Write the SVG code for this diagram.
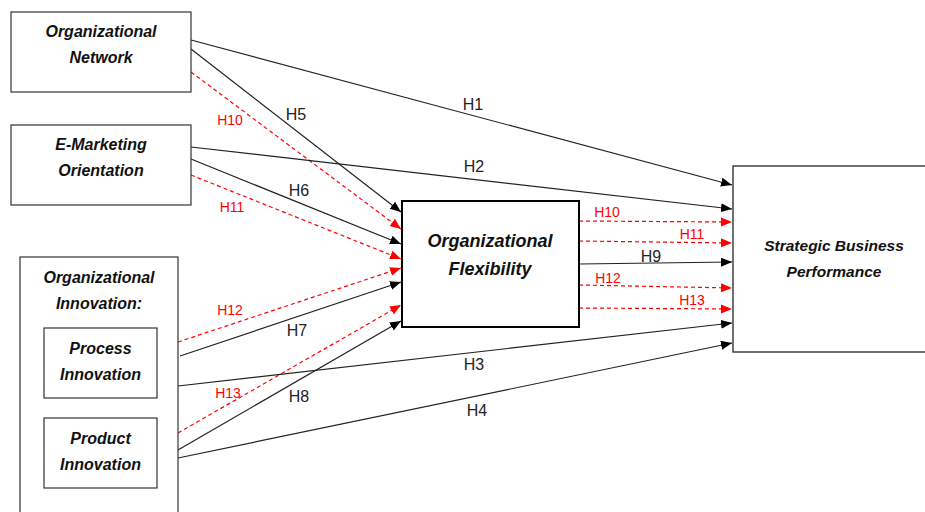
<svg xmlns="http://www.w3.org/2000/svg" width="925" height="512" viewBox="0 0 925 512">
<style>
.box{fill:#fff;stroke:#333;stroke-width:1.2}
.thick{fill:#fff;stroke:#000;stroke-width:2}
.nt{font-family:"Liberation Sans",Arial,sans-serif;font-weight:bold;font-style:italic;font-size:16px;fill:#111;text-anchor:middle}
.s{stroke:#222;stroke-width:1.2;fill:none;marker-end:url(#ab)}
.d{stroke:#f00;stroke-width:1.2;fill:none;stroke-dasharray:4 3;marker-end:url(#ar)}
.lb{font-family:"Liberation Sans",Arial,sans-serif;font-size:16px;fill:#222;text-anchor:middle}
.lr{font-family:"Liberation Sans",Arial,sans-serif;font-size:14px;fill:#f00;text-anchor:middle}
</style>
<defs>
<marker id="ab" markerUnits="userSpaceOnUse" markerWidth="12" markerHeight="10" refX="11" refY="4.5" orient="auto"><path d="M0,0 L11,4.5 L0,9 z" fill="#000"/></marker>
<marker id="ar" markerUnits="userSpaceOnUse" markerWidth="12" markerHeight="10" refX="11" refY="4.5" orient="auto"><path d="M0,0 L11,4.5 L0,9 z" fill="#f00"/></marker>
</defs>
<rect width="925" height="512" fill="#fff"/>
<g id="connectors">
<line class="s" x1="191" y1="40" x2="732" y2="185"/>
<line class="s" x1="191" y1="49" x2="401" y2="212"/>
<line class="d" x1="191" y1="72" x2="401" y2="229"/>
<line class="s" x1="191" y1="147" x2="732" y2="209"/>
<line class="s" x1="191" y1="159" x2="401" y2="244"/>
<line class="d" x1="191" y1="175" x2="401" y2="259"/>
<line class="d" x1="178" y1="342" x2="401" y2="268"/>
<line class="s" x1="180" y1="356" x2="401" y2="282"/>
<line class="s" x1="178" y1="386" x2="732" y2="323"/>
<line class="d" x1="178" y1="433" x2="401" y2="305"/>
<line class="s" x1="178" y1="450" x2="401" y2="321"/>
<line class="s" x1="178" y1="458" x2="732" y2="343"/>
<line class="d" x1="579" y1="221" x2="732" y2="222"/>
<line class="d" x1="579" y1="241" x2="732" y2="243"/>
<line class="s" x1="579" y1="264" x2="732" y2="262"/>
<line class="d" x1="579" y1="285" x2="732" y2="288"/>
<line class="d" x1="579" y1="308" x2="732" y2="309"/>
<text class="lb" x="473" y="110">H1</text>
<text class="lb" x="474" y="172">H2</text>
<text class="lb" x="474" y="370">H3</text>
<text class="lb" x="477" y="416">H4</text>
<text class="lb" x="296" y="120">H5</text>
<text class="lb" x="299" y="196">H6</text>
<text class="lb" x="297" y="336">H7</text>
<text class="lb" x="299" y="402">H8</text>
<text class="lb" x="651" y="262">H9</text>
<text class="lr" x="230" y="125">H10</text>
<text class="lr" x="232" y="212">H11</text>
<text class="lr" x="230" y="315">H12</text>
<text class="lr" x="228" y="398">H13</text>
<text class="lr" x="607" y="217">H10</text>
<text class="lr" x="692" y="239">H11</text>
<text class="lr" x="608" y="283">H12</text>
<text class="lr" x="692" y="305">H13</text>
</g>
<g id="org-network">
<rect class="box" x="11" y="12" width="180" height="80"/>
<text class="nt" x="101" y="37">Organizational</text>
<text class="nt" x="101" y="63">Network</text>
</g>
<g id="e-marketing">
<rect class="box" x="11" y="125" width="180" height="80"/>
<text class="nt" x="101" y="150">E-Marketing</text>
<text class="nt" x="101" y="176">Orientation</text>
</g>
<g id="org-innovation">
<rect class="box" x="20" y="257" width="158" height="270"/>
<text class="nt" x="99" y="283">Organizational</text>
<text class="nt" x="99" y="309">Innovation:</text>
</g>
<g id="process-innovation">
<rect class="box" x="44" y="328" width="113" height="70"/>
<text class="nt" x="100.5" y="354">Process</text>
<text class="nt" x="100.5" y="380">Innovation</text>
</g>
<g id="product-innovation">
<rect class="box" x="44" y="418" width="113" height="70"/>
<text class="nt" x="100.5" y="444">Product</text>
<text class="nt" x="100.5" y="470">Innovation</text>
</g>
<g id="org-flexibility">
<rect class="thick" x="402" y="201" width="177" height="126"/>
<text class="nt" x="490" y="247" style="font-size:18px">Organizational</text>
<text class="nt" x="490" y="275" style="font-size:18px">Flexibility</text>
</g>
<g id="strategic-performance">
<rect class="box" x="733" y="166" width="200" height="186" style="stroke-width:1.4"/>
<text class="nt" x="834" y="251" style="font-size:15.5px">Strategic Business</text>
<text class="nt" x="834" y="277" style="font-size:15.5px">Performance</text>
</g>
</svg>
